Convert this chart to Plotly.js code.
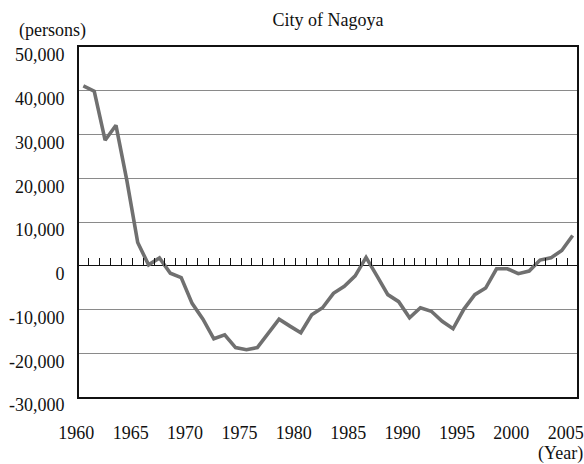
<!DOCTYPE html>
<html>
<head>
<meta charset="utf-8">
<script src="https://cdn.plot.ly/plotly-3.0.1.min.js"></script>
<style>
html,body{margin:0;padding:0;background:#fff;}
#chart{width:584px;height:464px;}
</style>
</head>
<body>
<div id="chart"></div>
<script>
var years = [1960,1961,1962,1963,1964,1965,1966,1967,1968,1969,
             1970,1971,1972,1973,1974,1975,1976,1977,1978,1979,
             1980,1981,1982,1983,1984,1985,1986,1987,1988,1989,
             1990,1991,1992,1993,1994,1995,1996,1997,1998,1999,
             2000,2001,2002,2003,2004,2005];
var netChange = [41100,39900,28700,32100,19500,5300,200,1800,-1700,-2700,
                 -8600,-12200,-16700,-15800,-18700,-19200,-18700,-15300,-12200,-13800,
                 -15300,-11200,-9600,-6300,-4700,-2300,1900,-2300,-6600,-8200,
                 -11900,-9600,-10400,-12700,-14400,-9900,-6600,-5100,-700,-700,
                 -1800,-1200,1300,1800,3500,6900];
var yTickVals = [-30000,-20000,-10000,0,10000,20000,30000,40000,50000];
var yTickText = ['-30,000','-20,000','-10,000','0','10,000','20,000','30,000','40,000','50,000'];
var xTickVals = [1960,1965,1970,1975,1980,1985,1990,1995,2000,2005];
var xTickText = ['1960','1965','1970','1975','1980','1985','1990','1995','2000','2005'];

var font = {family: '"Liberation Serif", "Times New Roman", serif', size: 18, color: '#111'};
var xRange = [1959.6, 2005.4];
var yRange = [-30000, 50000];

var trace = {
  x: years, y: netChange, type: 'scatter', mode: 'lines',
  line: {color: '#707070', width: 3.6},
  hoverinfo: 'skip', showlegend: false
};
// same series bound to the overlay axis that carries the yearly ticks on the zero line
var tickCarrier = {
  x: years, y: netChange, type: 'scatter', mode: 'lines', xaxis: 'x2',
  line: {color: 'rgba(0,0,0,0)', width: 0}, opacity: 0,
  hoverinfo: 'skip', showlegend: false
};

var layout = {
  width: 584, height: 464,
  margin: {l: 78.5, r: 7, t: 46.5, b: 67},
  paper_bgcolor: '#fff', plot_bgcolor: '#fff',
  font: font,
  showlegend: false,
  title: {text: 'City of Nagoya', font: font, x: 0.5, xref: 'paper', y: 0.957, yref: 'container', xanchor: 'center', yanchor: 'middle'},
  xaxis: {
    range: xRange, tickvals: xTickVals, ticktext: xTickText,
    ticks: '', showgrid: false, zeroline: false,
    showline: true, mirror: true, linecolor: '#111', linewidth: 2,
    tickfont: font, ticklabelshift: -7, ticklabelstandoff: 18,
    ticklabeloverflow: 'allow'
  },
  xaxis2: {
    overlaying: 'x', anchor: 'free', position: 0.375, side: 'top',
    range: xRange, tick0: 1960.5, dtick: 1, ticks: 'outside', ticklen: 8,
    tickwidth: 1, tickcolor: '#111', showticklabels: false,
    showgrid: false, zeroline: false, showline: false
  },
  yaxis: {
    range: yRange, tickvals: yTickVals, ticktext: yTickText,
    ticks: '', showgrid: true, gridcolor: '#8a8a8a', gridwidth: 1,
    zeroline: true, zerolinecolor: '#111', zerolinewidth: 1,
    showline: true, mirror: true, linecolor: '#111', linewidth: 2,
    tickfont: font, ticklabelshift: 8, ticklabelstandoff: 9,
    ticklabeloverflow: 'allow'
  },
  annotations: [
    {text: '(persons)', xref: 'paper', yref: 'paper', x: -0.053, y: 1.0, xshift: 0, yshift: 4,
     showarrow: false, font: font, xanchor: 'center', yanchor: 'bottom'},
    {text: '(Year)', xref: 'paper', yref: 'paper', x: 1, y: 0, xshift: 8, yshift: -69,
     showarrow: false, font: font, xanchor: 'right', yanchor: 'bottom'}
  ]
};

Plotly.newPlot('chart', [trace, tickCarrier], layout, {displayModeBar: false, staticPlot: true});
</script>
</body>
</html>
